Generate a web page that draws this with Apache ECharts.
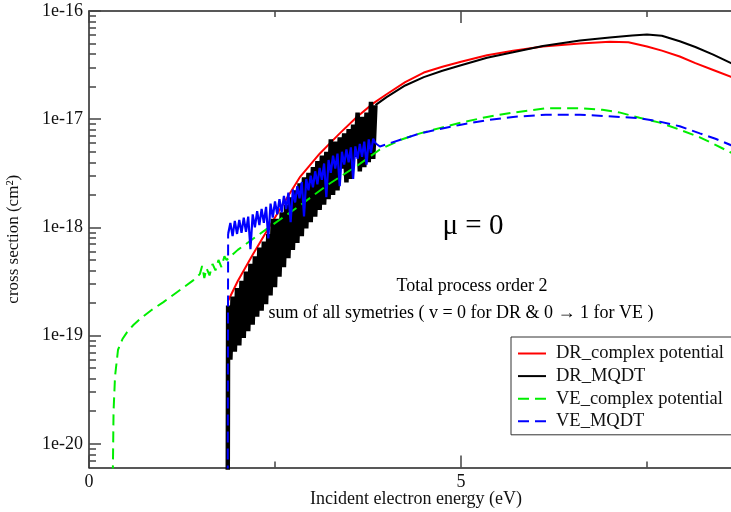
<!DOCTYPE html>
<html><head><meta charset="utf-8">
<script src="https://cdn.jsdelivr.net/npm/echarts@6/dist/echarts.min.js"></script>
<style>html,body{margin:0;padding:0;background:#fff}#c{width:731px;height:512px}</style>
</head><body><div id="c"></div>
<script>
// ---- data (energy in eV, cross section in cm^2) ----
const seriesNames = ['DR_complex potential', 'DR_MQDT', 'VE_complex potential', 'VE_MQDT'];
const yTickLabels = ['1e-20', '1e-19', '1e-18', '1e-17', '1e-16'];
const xTickLabels = ['0', '5'];

const drComplex = [
  [1.865, 5e-21], [1.87, 2.1e-19], [2.0, 3.2e-19], [2.2, 5.6e-19], [2.4, 9.5e-19], [2.6, 1.6e-18],
  [2.84, 2.95e-18], [3.1, 4.8e-18], [3.37, 7.4e-18], [3.6, 1.05e-17], [3.82, 1.4e-17], [4.0, 1.7e-17],
  [4.25, 2.2e-17], [4.5, 2.7e-17], [4.75, 3.05e-17], [5.0, 3.4e-17], [5.35, 3.9e-17], [5.7, 4.3e-17],
  [6.1, 4.7e-17], [6.6, 5.0e-17], [7.0, 5.2e-17], [7.25, 5.15e-17], [7.5, 4.7e-17], [7.7, 4.3e-17],
  [7.94, 3.8e-17], [8.15, 3.3e-17], [8.39, 2.85e-17], [8.63, 2.46e-17], [8.8, 2.2e-17]
];

// DR_MQDT: smooth part and resonant (noisy) part
const drMqdtSmooth = [
  [3.85, 1.35e-17], [4.0, 1.6e-17], [4.25, 2.05e-17], [4.5, 2.45e-17], [4.75, 2.8e-17],
  [5.0, 3.15e-17], [5.35, 3.7e-17], [5.7, 4.15e-17], [6.1, 4.75e-17], [6.6, 5.35e-17], [7.0, 5.7e-17],
  [7.3, 5.95e-17], [7.5, 6.05e-17], [7.7, 5.9e-17], [7.94, 5.25e-17], [8.15, 4.65e-17], [8.39, 3.95e-17],
  [8.63, 3.3e-17], [8.8, 2.9e-17]
];
const drMqdtNoisy = [
  [1.865, 5e-21], [1.87, 1.9e-19], [1.90, 6.0e-20], [1.93, 2.3e-19], [1.96, 7.1e-20], [1.99, 2.75e-19],
  [2.02, 8.1e-20], [2.05, 3.2e-19], [2.08, 9.5e-20], [2.11, 3.9e-19], [2.14, 1.1e-19], [2.17, 4.6e-19],
  [2.20, 1.26e-19], [2.23, 5.4e-19], [2.26, 1.5e-19], [2.29, 6.5e-19], [2.32, 1.7e-19], [2.35, 7.4e-19],
  [2.38, 1.95e-19], [2.41, 8.7e-19], [2.44, 2.35e-19], [2.47, 1.2e-18], [2.50, 2.8e-19], [2.53, 1.2e-18],
  [2.56, 3.5e-19], [2.59, 1.38e-18], [2.62, 4.3e-19], [2.65, 1.62e-18], [2.68, 5.2e-19], [2.71, 1.9e-18],
  [2.74, 6.2e-19], [2.77, 2.2e-18], [2.80, 7.2e-19], [2.83, 2.55e-18], [2.86, 8.3e-19], [2.89, 2.9e-18],
  [2.92, 9.8e-19], [2.95, 3.2e-18], [2.98, 1.12e-18], [3.01, 3.6e-18], [3.04, 1.26e-18], [3.07, 4.1e-18],
  [3.10, 1.45e-18], [3.13, 4.6e-18], [3.16, 1.62e-18], [3.19, 5.0e-18], [3.22, 1.82e-18], [3.25, 6.5e-18],
  [3.28, 2.0e-18], [3.31, 6.2e-18], [3.34, 2.2e-18], [3.37, 6.8e-18], [3.40, 3.5e-18], [3.43, 7.4e-18],
  [3.46, 2.6e-18], [3.49, 8.1e-18], [3.52, 2.8e-18], [3.55, 8.9e-18], [3.58, 4.5e-18], [3.61, 1.15e-17],
  [3.64, 3.3e-18], [3.67, 1.05e-17], [3.70, 3.6e-18], [3.73, 1.15e-17], [3.76, 4.0e-18], [3.79, 1.45e-17],
  [3.82, 4.3e-18], [3.85, 1.35e-17]
];

const veComplex = [
  [0.32, 5e-21], [0.33, 2.0e-20], [0.35, 4.2e-20], [0.39, 7.4e-20], [0.45, 9.3e-20], [0.51, 1.07e-19],
  [0.6, 1.26e-19], [0.7, 1.45e-19], [0.85, 1.74e-19], [1.0, 2.04e-19], [1.2, 2.57e-19], [1.4, 3.24e-19],
  [1.49, 3.7e-19], [1.52, 4.4e-19], [1.55, 3.4e-19], [1.58, 4.2e-19], [1.62, 3.6e-19], [1.66, 4.6e-19],
  [1.70, 4.0e-19], [1.74, 5.0e-19], [1.78, 4.3e-19], [1.82, 5.4e-19], [1.85, 5.0e-19], [2.0, 6.2e-19],
  [2.4, 9.8e-19], [2.81, 1.55e-18], [3.2, 2.45e-18], [3.6, 3.7e-18], [3.91, 5.25e-18], [4.2, 6.5e-18],
  [4.45, 7.4e-18], [4.75, 8.4e-18], [5.0, 9.3e-18], [5.35, 1.05e-17], [5.7, 1.15e-17], [6.14, 1.26e-17],
  [6.6, 1.26e-17], [6.9, 1.22e-17], [7.14, 1.15e-17], [7.4, 1.03e-17], [7.67, 9.3e-18], [7.94, 8.0e-18],
  [8.21, 6.8e-18], [8.42, 5.8e-18], [8.63, 4.9e-18], [8.8, 4.3e-18]
];

// VE_MQDT: threshold rise + smooth part (null = gap), and resonant (noisy) part
const veMqdtSmooth = [
  [1.865, 5e-21], [1.87, 8.7e-19], null,
  [3.85, 6.0e-18], [3.91, 5.6e-18], [4.2, 6.5e-18], [4.45, 7.4e-18], [4.75, 8.2e-18],
  [5.0, 8.9e-18], [5.35, 9.8e-18], [5.7, 1.05e-17], [6.14, 1.1e-17], [6.6, 1.1e-17], [7.14, 1.05e-17],
  [7.4, 1.02e-17], [7.67, 9.5e-18], [7.94, 8.6e-18], [8.21, 7.4e-18], [8.42, 6.6e-18], [8.63, 5.75e-18],
  [8.8, 5.1e-18]
];
const veMqdtNoisy = [
  [1.87, 8.7e-19], [1.90, 1.1e-18], [1.93, 8.3e-19], [1.96, 1.15e-18], [1.99, 8.7e-19],
  [2.02, 1.17e-18], [2.05, 8.9e-19], [2.08, 1.23e-18], [2.11, 9.1e-19], [2.14, 1.26e-18], [2.17, 6.3e-19],
  [2.20, 1.32e-18], [2.23, 1.0e-18], [2.26, 1.41e-18], [2.29, 1.05e-18], [2.32, 1.48e-18], [2.35, 1.1e-18],
  [2.38, 1.55e-18], [2.41, 7.9e-19], [2.44, 1.66e-18], [2.47, 1.23e-18], [2.50, 1.74e-18], [2.53, 1.32e-18],
  [2.56, 1.82e-18], [2.59, 1.38e-18], [2.62, 1.95e-18], [2.65, 1.48e-18], [2.68, 2.1e-18], [2.71, 1.12e-18],
  [2.74, 2.24e-18], [2.77, 1.7e-18], [2.80, 2.4e-18], [2.83, 1.86e-18], [2.86, 2.63e-18], [2.89, 1.26e-18],
  [2.92, 2.8e-18], [2.95, 2.2e-18], [2.98, 3.0e-18], [3.01, 2.35e-18], [3.04, 3.3e-18], [3.07, 2.5e-18],
  [3.10, 3.55e-18], [3.13, 2.75e-18], [3.16, 3.9e-18], [3.19, 1.9e-18], [3.22, 4.2e-18], [3.25, 3.2e-18],
  [3.28, 4.6e-18], [3.31, 3.5e-18], [3.34, 4.8e-18], [3.37, 2.4e-18], [3.40, 5.0e-18], [3.43, 3.8e-18],
  [3.46, 5.25e-18], [3.49, 4.0e-18], [3.52, 5.5e-18], [3.55, 2.8e-18], [3.58, 5.6e-18], [3.61, 4.3e-18],
  [3.64, 5.9e-18], [3.67, 4.5e-18], [3.70, 6.2e-18], [3.73, 3.8e-18], [3.76, 6.5e-18], [3.79, 4.9e-18],
  [3.82, 6.6e-18], [3.85, 6.0e-18]
];

// ---- axis ranges ----
const xMin = 0, xMax = 10;
const yMin = 6.04e-21, yMax = 1e-16;
const yMinLog = Math.log10(yMin), yMaxLog = Math.log10(yMax);

// minor log ticks (2..9 x 10^n), in log units for the helper axis
const minorLogTicks = [];
for (let n = -21; n <= -17; n++) {
  for (let k = 2; k <= 9; k++) {
    const v = n + Math.log10(k);
    if (v > yMinLog && v < yMaxLog) minorLogTicks.push(v);
  }
}

const FONT = '"Liberation Serif", "DejaVu Serif", serif';
const AX = '#222';

const chart = echarts.init(document.getElementById('c'), null, { renderer: 'canvas' });

const xCommon = {
  type: 'value', min: xMin, max: xMax, interval: 5,
  axisLine: { show: true, onZero: false, lineStyle: { color: AX, width: 1.5 } },
  axisTick: { show: true, inside: true, length: 12, lineStyle: { color: '#444', width: 1.5 } },
  minorTick: { show: true, splitNumber: 2, length: 6, lineStyle: { color: '#444', width: 1.5 } },
  splitLine: { show: false }, minorSplitLine: { show: false }
};

const line = (name, data, color, width, dashed) => ({
  name, type: 'line', data, showSymbol: false, symbol: 'none', connectNulls: false,
  lineStyle: { color, width, type: dashed ? [11, 6] : 'solid' }, itemStyle: { color }
});

chart.setOption({
  animation: false,
  backgroundColor: '#fff',
  grid: { left: 89, top: 11, width: 744, height: 456.5, containLabel: false, outerBoundsMode: 'none' },
  xAxis: [
    Object.assign({}, xCommon, {
      position: 'bottom',
      name: 'Incident electron energy (eV)', nameLocation: 'middle', nameGap: 23, nameMoveOverlap: false,
      nameTextStyle: { fontFamily: FONT, fontSize: 18, color: '#111', padding: [0, 90, 0, 0] },
      axisLabel: {
        show: true, margin: 6, fontFamily: FONT, fontSize: 18, color: '#111',
        formatter: v => (v === 0 ? xTickLabels[0] : v === 5 ? xTickLabels[1] : '')
      }
    }),
    Object.assign({}, xCommon, { position: 'top', axisLabel: { show: false } })
  ],
  yAxis: [
    {
      type: 'log', logBase: 10, min: yMin, max: yMax, position: 'left',
      name: 'cross section (cm²)', nameLocation: 'middle', nameGap: 67, nameMoveOverlap: false,
      nameTextStyle: { fontFamily: FONT, fontSize: 17, color: '#111' },
      axisLine: { show: true, onZero: false, lineStyle: { color: AX, width: 1.5 } },
      axisTick: { show: true, inside: true, length: 12, lineStyle: { color: '#444', width: 1.5 } },
      axisLabel: {
        show: true, margin: 6, showMinLabel: false, fontFamily: FONT, fontSize: 18, color: '#111',
        formatter: v => {
          const e = Math.round(Math.log10(v));
          const idx = e + 20;
          return (idx >= 0 && idx < yTickLabels.length) ? yTickLabels[idx] : '';
        }
      },
      splitLine: { show: false }
    },
    {
      type: 'value', min: yMinLog, max: yMaxLog, position: 'left',
      axisLine: { show: false },
      axisTick: { show: true, inside: true, length: 7, customValues: minorLogTicks, lineStyle: { color: '#444', width: 1.5 } },
      axisLabel: { show: false },
      splitLine: { show: false }
    }
  ],
  legend: {
    orient: 'vertical', left: 511, top: 337,
    padding: [7, 12, 4, 6], itemGap: 3.6, itemWidth: 28, itemHeight: 14,
    borderColor: '#333', borderWidth: 1, backgroundColor: '#fff',
    itemStyle: { opacity: 0 },
    textStyle: { fontFamily: FONT, fontSize: 18.5, color: '#111', padding: [0, 0, 0, 5] },
    data: seriesNames
  },
  graphic: [
    { type: 'text', x: 473, y: 226, style: { text: 'μ = 0', font: '29px ' + FONT, fill: '#000', align: 'center', verticalAlign: 'middle' } },
    { type: 'text', x: 472, y: 286, style: { text: 'Total process order 2', font: '18px ' + FONT, fill: '#000', align: 'center', verticalAlign: 'middle' } },
    { type: 'text', x: 461, y: 313, style: { text: 'sum of all symetries ( v = 0 for DR & 0 → 1 for VE )', font: '18px ' + FONT, fill: '#000', align: 'center', verticalAlign: 'middle' } }
  ],
  series: [
    line(seriesNames[0], drComplex, '#ff0000', 2, false),
    line(seriesNames[1], drMqdtSmooth, '#000000', 2, false),
    line(seriesNames[1], drMqdtNoisy, '#000000', 4.5, false),
    line(seriesNames[2], veComplex, '#00ee00', 2, true),
    line(seriesNames[3], veMqdtSmooth, '#0000ff', 2, true),
    line(seriesNames[3], veMqdtNoisy, '#0000ff', 2.2, false)
  ]
});
</script></body></html>
